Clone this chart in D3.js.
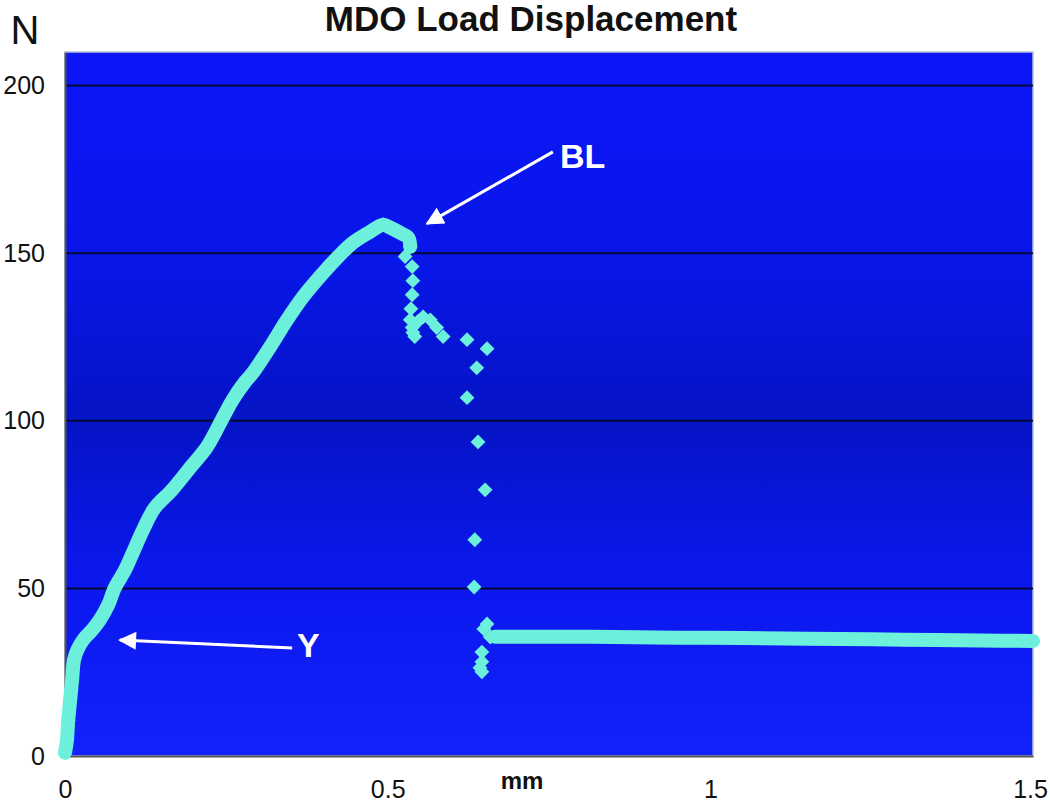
<!DOCTYPE html>
<html>
<head>
<meta charset="utf-8">
<script src="https://cdn.jsdelivr.net/npm/d3@7"></script>
<style>
  body { margin: 0; background: #fff; }
  text { font-family: "Liberation Sans", Arial, sans-serif; }
</style>
</head>
<body>
<div id="wrapper"></div>
<script>
// data (mm, N)
const riseX = [0, 0.003, 0.005, 0.008, 0.011, 0.014, 0.019, 0.028, 0.042, 0.054, 0.067, 0.077,
  0.093, 0.105, 0.121, 0.139, 0.166, 0.194, 0.220, 0.243, 0.260, 0.279, 0.291, 0.318, 0.344,
  0.369, 0.395, 0.422, 0.446, 0.473, 0.493, 0.504, 0.519, 0.532, 0.535]
const riseY = [1, 4.8, 10.7, 16.7, 22.7, 28.7, 31.6, 34.6, 37.6, 40.6, 45.1, 50.1,
  55.5, 60.6, 67.5, 74.0, 79.4, 86.0, 92.2, 100.3, 106.3, 111.6, 114.3, 122.1, 130.1,
  137.0, 143.0, 148.7, 153.1, 156.4, 158.5, 157.6, 156.1, 154.6, 151.9]

const dropX = [0.527, 0.538, 0.539, 0.538, 0.536, 0.535, 0.538, 0.539, 0.542, 0.547, 0.555,
  0.566, 0.576, 0.586, 0.623, 0.654, 0.638, 0.623, 0.640, 0.651, 0.635, 0.634, 0.654,
  0.649, 0.659, 0.646, 0.646, 0.646, 0.643]
const dropY = [149.0, 146.0, 141.8, 137.6, 133.4, 130.1, 127.8, 126.3, 125.1, 129.6, 131.0,
  130.1, 127.8, 125.1, 124.2, 121.5, 115.8, 106.9, 93.7, 79.4, 64.5, 50.4, 39.4,
  37.9, 35.5, 31.0, 28.1, 25.1, 26.3]

const tailX = [0.666, 0.75, 0.85, 0.95, 1.05, 1.15, 1.25, 1.35, 1.45, 1.5]
const tailY = [35.6, 35.6, 35.5, 35.3, 35.2, 35.0, 34.8, 34.6, 34.4, 34.3]

const yTicks = [0, 50, 100, 150, 200]
const xTicks = [0, 0.5, 1, 1.5]

function drawChart() {
  const dimensions = {
    width: 1050,
    height: 802,
    margin: { top: 52, right: 17, bottom: 46, left: 65 }
  }
  dimensions.boundedWidth = dimensions.width - dimensions.margin.left - dimensions.margin.right
  dimensions.boundedHeight = dimensions.height - dimensions.margin.top - dimensions.margin.bottom

  const wrapper = d3.select("#wrapper")
    .append("svg")
      .attr("width", dimensions.width)
      .attr("height", dimensions.height)

  const bounds = wrapper.append("g")
    .attr("transform", `translate(${dimensions.margin.left},${dimensions.margin.top})`)

  const xScale = d3.scaleLinear()
    .domain([0, 1.5])
    .range([0, dimensions.boundedWidth])

  const yScale = d3.scaleLinear()
    .domain([0, 210])
    .range([dimensions.boundedHeight, 0])

  // background gradient
  const defs = wrapper.append("defs")
  const grad = defs.append("linearGradient")
    .attr("id", "bg")
    .attr("x1", 0).attr("y1", 0).attr("x2", 0).attr("y2", 1)
  const stops = [[0, "#0c16f8"], [0.3, "#0816e8"], [0.52, "#0514c4"], [0.75, "#0a18ee"], [1, "#1222fa"]]
  stops.forEach(s => grad.append("stop").attr("offset", s[0]).attr("stop-color", s[1]))

  bounds.append("rect")
    .attr("width", dimensions.boundedWidth)
    .attr("height", dimensions.boundedHeight)
    .attr("fill", "url(#bg)")
    .attr("stroke", "#b8c0d8")
    .attr("stroke-width", 1.5)

  // gridlines
  bounds.append("g")
    .selectAll("line")
    .data(yTicks.filter(d => d > 0))
    .enter().append("line")
      .attr("x1", 0)
      .attr("x2", dimensions.boundedWidth)
      .attr("y1", d => yScale(d))
      .attr("y2", d => yScale(d))
      .attr("stroke", "#020838")
      .attr("stroke-width", 2)

  // axes
  const yAxis = bounds.append("g")
    .call(d3.axisLeft(yScale).tickValues(yTicks).tickSize(0).tickPadding(20).tickFormat(d3.format("d")))
  const xAxis = bounds.append("g")
    .attr("transform", `translate(0,${dimensions.boundedHeight})`)
    .call(d3.axisBottom(xScale).tickValues(xTicks).tickSize(0).tickPadding(24).tickFormat(d => d))
  ;[yAxis, xAxis].forEach(a => {
    a.select(".domain").attr("stroke", "#555").attr("stroke-width", 2)
    a.selectAll("text")
      .attr("font-size", 25)
      .attr("fill", "#111")
      .attr("font-family", "Liberation Sans, Arial, sans-serif")
  })
  // keep the last x label inside the page
  xAxis.selectAll(".tick text")
    .filter(d => d === 1.5)
    .attr("dx", -3)

  const markColor = "#6cf0dc"
  const diamond = d3.symbol(d3.symbolSquare, 110)

  const rise = riseX.map((x, i) => [x, riseY[i]])
  const drop = dropX.map((x, i) => [x, dropY[i]])
  const tail = tailX.map((x, i) => [x, tailY[i]])

  const lineGenerator = d3.line()
    .x(d => xScale(d[0]))
    .y(d => yScale(d[1]))
    .curve(d3.curveCatmullRom)

  // dense runs of markers drawn as a thick band
  ;[rise, tail].forEach(run => {
    bounds.append("path")
      .attr("d", lineGenerator(run))
      .attr("fill", "none")
      .attr("stroke", markColor)
      .attr("stroke-width", 14)
      .attr("stroke-linejoin", "round")
      .attr("stroke-linecap", "round")
  })

  bounds.append("g")
    .selectAll("path")
    .data(rise.concat(drop))
    .enter().append("path")
      .attr("d", diamond)
      .attr("transform", d => `translate(${xScale(d[0])},${yScale(d[1])}) rotate(45)`)
      .attr("fill", markColor)

  // annotations
  const arrows = [
    { from: [0.352, 32.2], to: [0.085, 34.6] },
    { from: [0.756, 180.2], to: [0.561, 158.8] }
  ]
  const labels = [
    { text: "Y", at: [0.377, 33.2] },
    { text: "BL", at: [0.802, 179.0] }
  ]

  defs.append("marker")
    .attr("id", "head")
    .attr("viewBox", "0 0 10 10")
    .attr("refX", 9).attr("refY", 5)
    .attr("markerWidth", 7).attr("markerHeight", 6)
    .attr("markerUnits", "strokeWidth")
    .attr("orient", "auto")
    .append("path")
      .attr("d", "M0,0L10,5L0,10z")
      .attr("fill", "#fff")

  bounds.selectAll(".arrow")
    .data(arrows)
    .enter().append("line")
      .attr("class", "arrow")
      .attr("x1", d => xScale(d.from[0]))
      .attr("y1", d => yScale(d.from[1]))
      .attr("x2", d => xScale(d.to[0]))
      .attr("y2", d => yScale(d.to[1]))
      .attr("stroke", "#fff")
      .attr("stroke-width", 3)
      .attr("marker-end", "url(#head)")

  bounds.selectAll(".label")
    .data(labels)
    .enter().append("text")
      .attr("class", "label")
      .attr("x", d => xScale(d.at[0]))
      .attr("y", d => yScale(d.at[1]))
      .attr("text-anchor", "middle")
      .attr("dominant-baseline", "central")
      .attr("font-size", 34)
      .attr("font-weight", "bold")
      .attr("fill", "#fff")
      .text(d => d.text)

  // titles
  wrapper.append("text")
    .attr("x", 531)
    .attr("y", 31)
    .attr("text-anchor", "middle")
    .attr("font-size", 35)
    .attr("font-weight", "bold")
    .attr("fill", "#111")
    .text("MDO Load Displacement")

  wrapper.append("text")
    .attr("x", 25)
    .attr("y", 44)
    .attr("text-anchor", "middle")
    .attr("font-size", 40)
    .attr("fill", "#111")
    .text("N")

  wrapper.append("text")
    .attr("x", 522)
    .attr("y", 789)
    .attr("text-anchor", "middle")
    .attr("font-size", 24)
    .attr("font-weight", "bold")
    .attr("fill", "#111")
    .text("mm")
}

drawChart()
</script>
</body>
</html>
